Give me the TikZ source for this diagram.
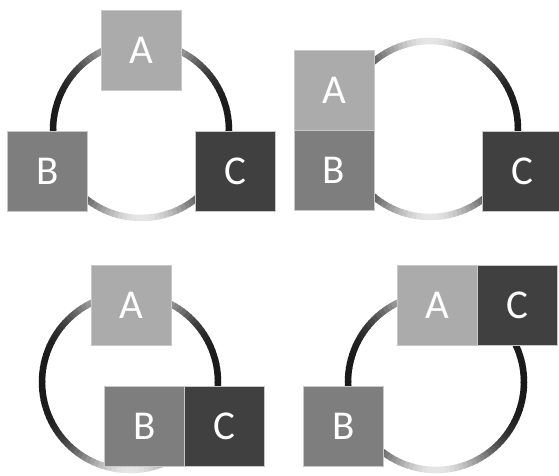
\documentclass[tikz,border=0pt]{standalone}
\usepackage{fontspec}
\setmainfont{Carlito}
\definecolor{gA}{HTML}{ABABAB}
\definecolor{gB}{HTML}{7E7E7E}
\definecolor{gC}{HTML}{404040}
\definecolor{rim}{HTML}{C8C8C8}
\tikzset{
  box/.style={draw=rim, line width=0.8pt, minimum size=80pt, inner sep=0pt,
    text=white, font=\fontsize{41}{41}\selectfont},
  boxA/.style={box, fill=gA},
  boxB/.style={box, fill=gB},
  boxC/.style={box, fill=gC},
}
% metallic ring: dark at the sides, bright at top and bottom
\newcommand\metalring[2]{%
  \begin{scope}[shift={(#1,#2)}]
    \foreach \a in {0,3,...,357}{%
      \pgfmathsetmacro\dk{90-80*abs(sin(\a+1.5))^4}%
      \draw[line width=6.5pt, color=black!\dk!white]
        (\a:88) arc[start angle=\a, end angle=\a+3.6, radius=88];
    }
  \end{scope}}
\begin{document}
\begin{tikzpicture}[x=1pt, y=-1pt]
  \useasboundingbox (0,0) rectangle (559,475);
  \clip (0,0) rectangle (559,475);
  % rings
  \metalring{141}{130}
  \metalring{430}{129}
  \metalring{130}{382}
  \metalring{436}{382}
  % top left
  \node[boxA] (a1) at (141.5,50) {A};
  \node[boxB] (b1) at (47.5,171) {B};
  \node[boxC] (c1) at (235.5,171) {C};
  % top right
  \node[boxA] (a2) at (334,90.5) {A};
  \node[boxB] (b2) at (334,170.5) {B};
  \node[boxC] (c2) at (522.5,171) {C};
  % bottom left
  \node[boxA] (a3) at (131.5,305.5) {A};
  \node[boxB] (b3) at (144.5,426.5) {B};
  \node[boxC] (c3) at (224.5,426.5) {C};
  % bottom right
  \node[boxA] (a4) at (437.5,305.5) {A};
  \node[boxC] (c4) at (517.5,305.5) {C};
  \node[boxB] (b4) at (343.5,426) {B};
\end{tikzpicture}
\end{document}
